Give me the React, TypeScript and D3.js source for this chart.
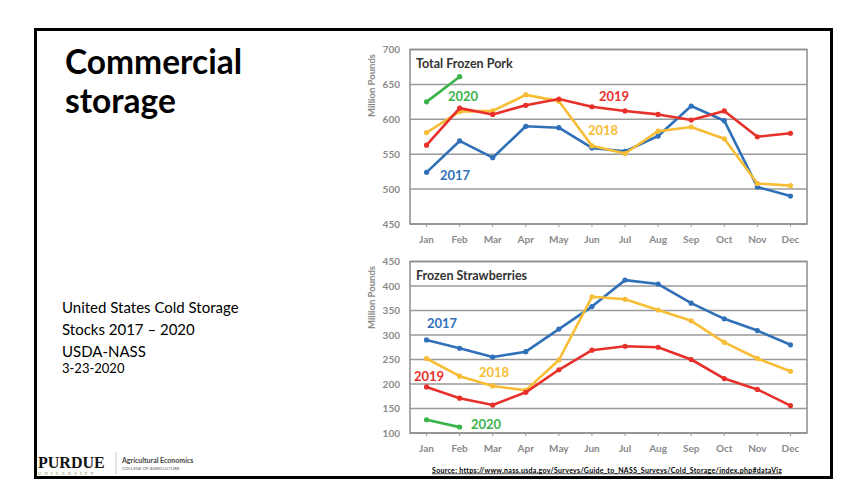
import React from "react";
import * as d3 from "d3";

const months = ["Jan", "Feb", "Mar", "Apr", "May", "Jun", "Jul", "Aug", "Sep", "Oct", "Nov", "Dec"];
const years = ["2017", "2018", "2019", "2020"];

const porkTicks = [450, 500, 550, 600, 650, 700];
const pork2017 = [524, 569, 545, 590, 588, 559, 554, 576, 619, 598, 503, 490];
const pork2018 = [581, 611, 612, 635, 626, 562, 551, 583, 589, 572, 508, 505];
const pork2019 = [563, 616, 607, 620, 629, 618, 612, 607, 599, 612, 575, 580];
const pork2020 = [625, 661];

const berryTicks = [100, 150, 200, 250, 300, 350, 400, 450];
const berry2017 = [290, 273, 255, 266, 312, 358, 412, 404, 365, 333, 309, 280];
const berry2018 = [252, 216, 196, 187, 249, 378, 373, 351, 329, 285, 252, 226];
const berry2019 = [194, 171, 157, 183, 229, 269, 277, 275, 250, 211, 189, 156];
const berry2020 = [127, 112];

const colors: Record<string, string> = {
  "2017": "#2f70b8",
  "2018": "#f7bd35",
  "2019": "#e8302b",
  "2020": "#3ab34a",
};

const FONT = "Lato, 'Open Sans', sans-serif";

type Panel = {
  title: string;
  ticks: number[];
  series: number[][];
  top: number;
  bottom: number;
  labels: { year: string; x: number; y: number }[];
};

const panels: Panel[] = [
  {
    title: "Total Frozen Pork",
    ticks: porkTicks,
    series: [pork2017, pork2018, pork2019, pork2020],
    top: 49.5,
    bottom: 224,
    labels: [
      { year: "2020", x: 463, y: 101 },
      { year: "2019", x: 614, y: 101 },
      { year: "2018", x: 603, y: 135 },
      { year: "2017", x: 455, y: 180 },
    ],
  },
  {
    title: "Frozen Strawberries",
    ticks: berryTicks,
    series: [berry2017, berry2018, berry2019, berry2020],
    top: 261.5,
    bottom: 433,
    labels: [
      { year: "2017", x: 442, y: 328 },
      { year: "2018", x: 494, y: 377 },
      { year: "2019", x: 429, y: 381 },
      { year: "2020", x: 486, y: 429 },
    ],
  },
];

const PLOT_LEFT = 410;
const PLOT_RIGHT = 807;

function ChartPanel({ p }: { p: Panel }) {
  const x = d3.scaleBand<string>().domain(months).range([PLOT_LEFT, PLOT_RIGHT]);
  const y = d3
    .scaleLinear()
    .domain([d3.min(p.ticks)!, d3.max(p.ticks)!])
    .range([p.bottom, p.top]);
  const cx = (i: number) => x(months[i])! + x.bandwidth() / 2;
  const line = d3
    .line<number>()
    .x((_, i) => cx(i))
    .y((v) => y(v));
  return (
    <g>
      {p.ticks.map((t) => (
        <g key={t}>
          <line x1={PLOT_LEFT} x2={PLOT_RIGHT} y1={y(t)} y2={y(t)} stroke="#9a9a9a" strokeWidth={1.5} />
          <text
            x={400}
            y={y(t)}
            dy="0.35em"
            textAnchor="end"
            fontFamily={FONT}
            fontSize={10}
            fontWeight={700}
            fill="#8a8a8a"
          >
            {t}
          </text>
        </g>
      ))}
      <rect
        x={PLOT_LEFT}
        y={p.top}
        width={PLOT_RIGHT - PLOT_LEFT}
        height={p.bottom - p.top}
        fill="none"
        stroke="#8c8c8c"
        strokeWidth={1.5}
      />
      {months.map((m, i) => (
        <g key={m}>
          <line x1={cx(i)} x2={cx(i)} y1={p.bottom} y2={p.bottom + 3} stroke="#9a9a9a" strokeWidth={1} />
          <text
            x={cx(i)}
            y={p.bottom + 19}
            textAnchor="middle"
            fontFamily={FONT}
            fontSize={10}
            fontWeight={700}
            fill="#8a8a8a"
          >
            {m}
          </text>
        </g>
      ))}
      <text
        transform={`translate(375,${p.top + 36}) rotate(-90)`}
        textAnchor="middle"
        fontFamily={FONT}
        fontSize={9.5}
        fontWeight={700}
        fill="#8a8a8a"
      >
        Million Pounds
      </text>
      <text x={416} y={p.top + 18} fontFamily={FONT} fontSize={12.5} fontWeight={700} fill="#333">
        {p.title}
      </text>
      {p.series.map((s, si) => {
        const c = colors[years[si]];
        return (
          <g key={si}>
            <path d={line(s)!} fill="none" stroke={c} strokeWidth={2.6} strokeLinejoin="round" />
            {s.map((v, i) => (
              <circle key={i} cx={cx(i)} cy={y(v)} r={2.6} fill={c} />
            ))}
          </g>
        );
      })}
      {p.labels.map((l) => (
        <text
          key={l.year}
          x={l.x}
          y={l.y}
          textAnchor="middle"
          fontFamily={FONT}
          fontSize={13}
          fontWeight={700}
          fill={colors[l.year]}
        >
          {l.year}
        </text>
      ))}
    </g>
  );
}

export default function App() {
  return (
    <svg
      width={858}
      height={496}
      style={{ position: "absolute", left: 0, top: 0, display: "block", background: "#fff" }}
    >
      <rect x={0} y={0} width={858} height={496} fill="#fff" />
      <rect x={35.5} y={29.5} width={796} height={448} fill="#fff" stroke="#000" strokeWidth={3} />
      <text x={65} y={74} fontFamily={FONT} fontSize={33.5} fontWeight={700} fill="#000">
        Commercial
      </text>
      <text x={65} y={113} fontFamily={FONT} fontSize={33.5} fontWeight={700} fill="#000">
        storage
      </text>
      <g fontFamily={FONT} fill="#000">
        <text x={62} y={313} fontSize={15}>United States Cold Storage</text>
        <text x={62} y={335} fontSize={15}>Stocks 2017 – 2020</text>
        <text x={62} y={357} fontSize={15}>USDA-NASS</text>
        <text x={62} y={373} fontSize={13}>3-23-2020</text>
      </g>
      <text x={38} y={468} fontFamily="'Liberation Serif', serif" fontSize={16} fontWeight={700} fill="#111">
        PURDUE
      </text>
      <text x={38} y={475} fontFamily="'Liberation Serif', serif" fontSize={4.5} fill="#8a7a4a" letterSpacing={3.2}>
        UNIVERSITY
      </text>
      <line x1={116} x2={116} y1={452} y2={474} stroke="#bbb" strokeWidth={0.8} />
      <text x={122} y={463} fontFamily={FONT} fontSize={7} fontWeight={700} fill="#444">
        Agricultural Economics
      </text>
      <text x={122} y={470} fontFamily={FONT} fontSize={4.5} fill="#666">
        COLLEGE OF AGRICULTURE
      </text>
      {panels.map((p) => (
        <ChartPanel key={p.title} p={p} />
      ))}
      <text
        x={432}
        y={472.5}
        fontFamily={FONT}
        fontSize={7}
        fontWeight={700}
        fill="#000"
        textDecoration="underline"
        letterSpacing={0.3}
      >
        Source: https://www.nass.usda.gov/Surveys/Guide_to_NASS_Surveys/Cold_Storage/index.php#dataViz
      </text>
    </svg>
  );
}
